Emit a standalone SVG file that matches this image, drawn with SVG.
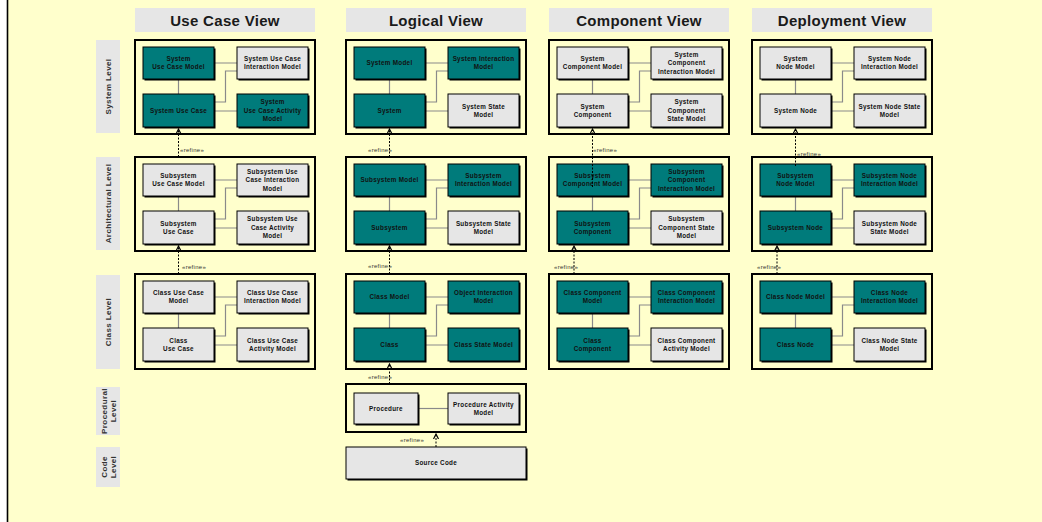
<svg xmlns="http://www.w3.org/2000/svg" width="1042" height="522" viewBox="0 0 1042 522">
<style>
.hd{fill:#e6e6e6}
.ht{font:bold 15px "Liberation Sans",Arial,sans-serif;fill:#1a1a1a;text-anchor:middle;letter-spacing:0.3px}
.ct{fill:none;stroke:#000;stroke-width:2}
.lv{fill:#e6e6e6}
.lt{font:bold 8px "Liberation Sans",Arial,sans-serif;fill:#333;text-anchor:middle;letter-spacing:0.4px}
.sh{fill:#000}
.tl{fill:#007b7b;stroke:#000;stroke-width:1}
.gr{fill:#e6e6e6;stroke:#000;stroke-width:1}
.tx{font:bold 6.3px "Liberation Sans",Arial,sans-serif;fill:#111;text-anchor:middle;letter-spacing:0.3px}
.lk{fill:none;stroke:#8a8a8a;stroke-width:1.2}
.rf{fill:none;stroke:#000;stroke-width:1;stroke-dasharray:2 1.5;marker-end:url(#ah)}
.rl{font:6px "Liberation Sans",Arial,sans-serif;fill:#333;letter-spacing:0.3px}
</style>
<defs>
<marker id="ah" markerUnits="userSpaceOnUse" markerWidth="7" markerHeight="7" refX="5" refY="3" orient="auto">
<path d="M0,0.5 L5,3 L0,5.5" fill="none" stroke="#000" stroke-width="1.2"/>
</marker>
</defs>
<rect width="1042" height="522" fill="#ffffcc"/>
<rect width="7" height="522" fill="#fff"/>
<line x1="7.5" y1="0" x2="7.5" y2="522" stroke="#000" stroke-width="1.6"/>

<g id="headers">
<rect class="hd" x="135" y="8" width="180" height="24"/><text class="ht" x="225" y="25.5">Use Case View</text>
<rect class="hd" x="346" y="8" width="180" height="24"/><text class="ht" x="436" y="25.5">Logical View</text>
<rect class="hd" x="549" y="8" width="180" height="24"/><text class="ht" x="639" y="25.5">Component View</text>
<rect class="hd" x="752" y="8" width="180" height="24"/><text class="ht" x="842" y="25.5">Deployment View</text>
</g>

<g id="levels">
<rect class="lv" x="96" y="40" width="24" height="93"/><text class="lt" transform="translate(108,86.5) rotate(-90)" y="3">System Level</text>
<rect class="lv" x="96" y="157" width="24" height="93"/><text class="lt" transform="translate(108,203.5) rotate(-90)" y="3">Architectural Level</text>
<rect class="lv" x="96" y="275" width="24" height="94"/><text class="lt" transform="translate(108,322) rotate(-90)" y="3">Class Level</text>
<rect class="lv" x="96" y="387" width="24" height="48"/><text class="lt" transform="translate(108,411) rotate(-90)"><tspan x="0" y="-1.5">Procedural</tspan><tspan x="0" y="7.5">Level</tspan></text>
<rect class="lv" x="96" y="447" width="24" height="40"/><text class="lt" transform="translate(108,467) rotate(-90)"><tspan x="0" y="-1.5">Code</tspan><tspan x="0" y="7.5">Level</tspan></text>
</g>

<g id="containers">
<rect class="ct" x="135" y="40" width="180" height="94"/>
<rect class="ct" x="135" y="157" width="180" height="94"/>
<rect class="ct" x="135" y="274" width="180" height="95"/>
<rect class="ct" x="346" y="40" width="180" height="94"/>
<rect class="ct" x="346" y="157" width="180" height="94"/>
<rect class="ct" x="346" y="274" width="180" height="95"/>
<rect class="ct" x="346" y="384" width="180" height="48"/>
<rect class="ct" x="549" y="40" width="180" height="94"/>
<rect class="ct" x="549" y="157" width="180" height="94"/>
<rect class="ct" x="549" y="274" width="180" height="95"/>
<rect class="ct" x="752" y="40" width="180" height="94"/>
<rect class="ct" x="752" y="157" width="180" height="94"/>
<rect class="ct" x="752" y="274" width="180" height="95"/>
</g>

<g id="connectors">
<path class="lk" d="M178.5 79V94M214 63H237M214 102H225.5V71H237M214 111H237"/>
<path class="lk" d="M178.5 196V211M214 180H237M214 219H225.5V188H237M214 228H237"/>
<path class="lk" d="M178.5 313V328M214 297H237M214 336H225.5V305H237M214 345H237"/>
<path class="lk" d="M389.5 79V94M425 63H448M425 102H436.5V71H448M425 111H448"/>
<path class="lk" d="M389.5 196V211M425 180H448M425 219H436.5V188H448M425 228H448"/>
<path class="lk" d="M389.5 313V328M425 297H448M425 336H436.5V305H448M425 345H448"/>
<path class="lk" d="M418 408.5H448"/>
<path class="lk" d="M592.5 79V94M628 63H651M628 102H639.5V71H651M628 111H651"/>
<path class="lk" d="M592.5 196V211M628 180H651M628 219H639.5V188H651M628 228H651"/>
<path class="lk" d="M592.5 313V328M628 297H651M628 336H639.5V305H651M628 345H651"/>
<path class="lk" d="M795.5 79V94M831 63H854M831 102H842.5V71H854M831 111H854"/>
<path class="lk" d="M795.5 196V211M831 180H854M831 219H842.5V188H854M831 228H854"/>
<path class="lk" d="M795.5 313V328M831 297H854M831 336H842.5V305H854M831 345H854"/>
</g>

<!-- Use Case View -->
<g id="uc-s-tl"><rect class="sh" x="144.5" y="48.5" width="71" height="32"/><rect class="tl" x="143" y="47" width="71" height="32"/><text class="tx"><tspan x="178.5" y="61.05">System</tspan><tspan x="178.5" y="69.35">Use Case Model</tspan></text></g>
<g id="uc-s-tr"><rect class="sh" x="238.5" y="48.5" width="71" height="32"/><rect class="gr" x="237" y="47" width="71" height="32"/><text class="tx"><tspan x="272.5" y="61.05">System Use Case</tspan><tspan x="272.5" y="69.35">Interaction Model</tspan></text></g>
<g id="uc-s-bl"><rect class="sh" x="144.5" y="95.5" width="71" height="33"/><rect class="tl" x="143" y="94" width="71" height="33"/><text class="tx" x="178.5" y="112.7">System Use Case</text></g>
<g id="uc-s-br"><rect class="sh" x="238.5" y="95.5" width="71" height="33"/><rect class="tl" x="237" y="94" width="71" height="33"/><text class="tx"><tspan x="272.5" y="104.4">System</tspan><tspan x="272.5" y="112.7">Use Case Activity</tspan><tspan x="272.5" y="121">Model</tspan></text></g>

<g id="uc-a-tl"><rect class="sh" x="144.5" y="165.5" width="71" height="32"/><rect class="gr" x="143" y="164" width="71" height="32"/><text class="tx"><tspan x="178.5" y="178.05">Subsystem</tspan><tspan x="178.5" y="186.35">Use Case Model</tspan></text></g>
<g id="uc-a-tr"><rect class="sh" x="238.5" y="165.5" width="71" height="32"/><rect class="gr" x="237" y="164" width="71" height="32"/><text class="tx"><tspan x="272.5" y="173.9">Subsystem Use</tspan><tspan x="272.5" y="182.2">Case Interaction</tspan><tspan x="272.5" y="190.5">Model</tspan></text></g>
<g id="uc-a-bl"><rect class="sh" x="144.5" y="212.5" width="71" height="33"/><rect class="gr" x="143" y="211" width="71" height="33"/><text class="tx"><tspan x="178.5" y="225.55">Subsystem</tspan><tspan x="178.5" y="233.85">Use Case</tspan></text></g>
<g id="uc-a-br"><rect class="sh" x="238.5" y="212.5" width="71" height="33"/><rect class="gr" x="237" y="211" width="71" height="33"/><text class="tx"><tspan x="272.5" y="221.4">Subsystem Use</tspan><tspan x="272.5" y="229.7">Case Activity</tspan><tspan x="272.5" y="238">Model</tspan></text></g>

<g id="uc-c-tl"><rect class="sh" x="144.5" y="282.5" width="71" height="32"/><rect class="gr" x="143" y="281" width="71" height="32"/><text class="tx"><tspan x="178.5" y="295.05">Class Use Case</tspan><tspan x="178.5" y="303.35">Model</tspan></text></g>
<g id="uc-c-tr"><rect class="sh" x="238.5" y="282.5" width="71" height="32"/><rect class="gr" x="237" y="281" width="71" height="32"/><text class="tx"><tspan x="272.5" y="295.05">Class Use Case</tspan><tspan x="272.5" y="303.35">Interaction Model</tspan></text></g>
<g id="uc-c-bl"><rect class="sh" x="144.5" y="329.5" width="71" height="33"/><rect class="gr" x="143" y="328" width="71" height="33"/><text class="tx"><tspan x="178.5" y="342.55">Class</tspan><tspan x="178.5" y="350.85">Use Case</tspan></text></g>
<g id="uc-c-br"><rect class="sh" x="238.5" y="329.5" width="71" height="33"/><rect class="gr" x="237" y="328" width="71" height="33"/><text class="tx"><tspan x="272.5" y="342.55">Class Use Case</tspan><tspan x="272.5" y="350.85">Activity  Model</tspan></text></g>

<!-- Logical View -->
<g id="lg-s-tl"><rect class="sh" x="355.5" y="48.5" width="71" height="32"/><rect class="tl" x="354" y="47" width="71" height="32"/><text class="tx" x="389.5" y="65.2">System  Model</text></g>
<g id="lg-s-tr"><rect class="sh" x="449.5" y="48.5" width="71" height="32"/><rect class="tl" x="448" y="47" width="71" height="32"/><text class="tx"><tspan x="483.5" y="61.05">System Interaction</tspan><tspan x="483.5" y="69.35">Model</tspan></text></g>
<g id="lg-s-bl"><rect class="sh" x="355.5" y="95.5" width="71" height="33"/><rect class="tl" x="354" y="94" width="71" height="33"/><text class="tx" x="389.5" y="112.7">System</text></g>
<g id="lg-s-br"><rect class="sh" x="449.5" y="95.5" width="71" height="33"/><rect class="gr" x="448" y="94" width="71" height="33"/><text class="tx"><tspan x="483.5" y="108.55">System State</tspan><tspan x="483.5" y="116.85">Model</tspan></text></g>

<g id="lg-a-tl"><rect class="sh" x="355.5" y="165.5" width="71" height="32"/><rect class="tl" x="354" y="164" width="71" height="32"/><text class="tx" x="389.5" y="182.2">Subsystem Model</text></g>
<g id="lg-a-tr"><rect class="sh" x="449.5" y="165.5" width="71" height="32"/><rect class="tl" x="448" y="164" width="71" height="32"/><text class="tx"><tspan x="483.5" y="178.05">Subsystem</tspan><tspan x="483.5" y="186.35">Interaction Model</tspan></text></g>
<g id="lg-a-bl"><rect class="sh" x="355.5" y="212.5" width="71" height="33"/><rect class="tl" x="354" y="211" width="71" height="33"/><text class="tx" x="389.5" y="229.7">Subsystem</text></g>
<g id="lg-a-br"><rect class="sh" x="449.5" y="212.5" width="71" height="33"/><rect class="gr" x="448" y="211" width="71" height="33"/><text class="tx"><tspan x="483.5" y="225.55">Subsystem State</tspan><tspan x="483.5" y="233.85">Model</tspan></text></g>

<g id="lg-c-tl"><rect class="sh" x="355.5" y="282.5" width="71" height="32"/><rect class="tl" x="354" y="281" width="71" height="32"/><text class="tx" x="389.5" y="299.2">Class Model</text></g>
<g id="lg-c-tr"><rect class="sh" x="449.5" y="282.5" width="71" height="32"/><rect class="tl" x="448" y="281" width="71" height="32"/><text class="tx"><tspan x="483.5" y="295.05">Object Interaction</tspan><tspan x="483.5" y="303.35">Model</tspan></text></g>
<g id="lg-c-bl"><rect class="sh" x="355.5" y="329.5" width="71" height="33"/><rect class="tl" x="354" y="328" width="71" height="33"/><text class="tx" x="389.5" y="346.7">Class</text></g>
<g id="lg-c-br"><rect class="sh" x="449.5" y="329.5" width="71" height="33"/><rect class="tl" x="448" y="328" width="71" height="33"/><text class="tx" x="483.5" y="346.7">Class State Model</text></g>

<g id="lg-p-l"><rect class="sh" x="355.5" y="394.5" width="64" height="31"/><rect class="gr" x="354" y="393" width="64" height="31"/><text class="tx" x="386" y="410.7">Procedure</text></g>
<g id="lg-p-r"><rect class="sh" x="449.5" y="394.5" width="71" height="31"/><rect class="gr" x="448" y="393" width="71" height="31"/><text class="tx"><tspan x="483.5" y="406.55">Procedure Activity</tspan><tspan x="483.5" y="414.85">Model</tspan></text></g>
<g id="lg-src"><rect class="sh" x="347.5" y="448.5" width="180" height="32"/><rect class="gr" x="346" y="447" width="180" height="32"/><text class="tx" x="436" y="465.2">Source Code</text></g>

<!-- Component View -->
<g id="cp-s-tl"><rect class="sh" x="558.5" y="48.5" width="71" height="32"/><rect class="gr" x="557" y="47" width="71" height="32"/><text class="tx"><tspan x="592.5" y="61.05">System</tspan><tspan x="592.5" y="69.35">Component Model</tspan></text></g>
<g id="cp-s-tr"><rect class="sh" x="652.5" y="48.5" width="71" height="32"/><rect class="gr" x="651" y="47" width="71" height="32"/><text class="tx"><tspan x="686.5" y="56.9">System</tspan><tspan x="686.5" y="65.2">Component</tspan><tspan x="686.5" y="73.5">Interaction Model</tspan></text></g>
<g id="cp-s-bl"><rect class="sh" x="558.5" y="95.5" width="71" height="33"/><rect class="gr" x="557" y="94" width="71" height="33"/><text class="tx"><tspan x="592.5" y="108.55">System</tspan><tspan x="592.5" y="116.85">Component</tspan></text></g>
<g id="cp-s-br"><rect class="sh" x="652.5" y="95.5" width="71" height="33"/><rect class="gr" x="651" y="94" width="71" height="33"/><text class="tx"><tspan x="686.5" y="104.4">System</tspan><tspan x="686.5" y="112.7">Component</tspan><tspan x="686.5" y="121">State Model</tspan></text></g>

<g id="cp-a-tl"><rect class="sh" x="558.5" y="165.5" width="71" height="32"/><rect class="tl" x="557" y="164" width="71" height="32"/><text class="tx"><tspan x="592.5" y="178.05">Subsystem</tspan><tspan x="592.5" y="186.35">Component Model</tspan></text></g>
<g id="cp-a-tr"><rect class="sh" x="652.5" y="165.5" width="71" height="32"/><rect class="tl" x="651" y="164" width="71" height="32"/><text class="tx"><tspan x="686.5" y="173.9">Subsystem</tspan><tspan x="686.5" y="182.2">Component</tspan><tspan x="686.5" y="190.5">Interaction  Model</tspan></text></g>
<g id="cp-a-bl"><rect class="sh" x="558.5" y="212.5" width="71" height="33"/><rect class="tl" x="557" y="211" width="71" height="33"/><text class="tx"><tspan x="592.5" y="225.55">Subsystem</tspan><tspan x="592.5" y="233.85">Component</tspan></text></g>
<g id="cp-a-br"><rect class="sh" x="652.5" y="212.5" width="71" height="33"/><rect class="gr" x="651" y="211" width="71" height="33"/><text class="tx"><tspan x="686.5" y="221.4">Subsystem</tspan><tspan x="686.5" y="229.7">Component State</tspan><tspan x="686.5" y="238">Model</tspan></text></g>

<g id="cp-c-tl"><rect class="sh" x="558.5" y="282.5" width="71" height="32"/><rect class="tl" x="557" y="281" width="71" height="32"/><text class="tx"><tspan x="592.5" y="295.05">Class Component</tspan><tspan x="592.5" y="303.35">Model</tspan></text></g>
<g id="cp-c-tr"><rect class="sh" x="652.5" y="282.5" width="71" height="32"/><rect class="tl" x="651" y="281" width="71" height="32"/><text class="tx"><tspan x="686.5" y="295.05">Class Component</tspan><tspan x="686.5" y="303.35">Interaction Model</tspan></text></g>
<g id="cp-c-bl"><rect class="sh" x="558.5" y="329.5" width="71" height="33"/><rect class="tl" x="557" y="328" width="71" height="33"/><text class="tx"><tspan x="592.5" y="342.55">Class</tspan><tspan x="592.5" y="350.85">Component</tspan></text></g>
<g id="cp-c-br"><rect class="sh" x="652.5" y="329.5" width="71" height="33"/><rect class="gr" x="651" y="328" width="71" height="33"/><text class="tx"><tspan x="686.5" y="342.55">Class Component</tspan><tspan x="686.5" y="350.85">Activity  Model</tspan></text></g>

<!-- Deployment View -->
<g id="dp-s-tl"><rect class="sh" x="761.5" y="48.5" width="71" height="32"/><rect class="gr" x="760" y="47" width="71" height="32"/><text class="tx"><tspan x="795.5" y="61.05">System</tspan><tspan x="795.5" y="69.35">Node Model</tspan></text></g>
<g id="dp-s-tr"><rect class="sh" x="855.5" y="48.5" width="71" height="32"/><rect class="gr" x="854" y="47" width="71" height="32"/><text class="tx"><tspan x="889.5" y="61.05">System Node</tspan><tspan x="889.5" y="69.35">Interaction Model</tspan></text></g>
<g id="dp-s-bl"><rect class="sh" x="761.5" y="95.5" width="71" height="33"/><rect class="gr" x="760" y="94" width="71" height="33"/><text class="tx" x="795.5" y="112.7">System Node</text></g>
<g id="dp-s-br"><rect class="sh" x="855.5" y="95.5" width="71" height="33"/><rect class="gr" x="854" y="94" width="71" height="33"/><text class="tx"><tspan x="889.5" y="108.55">System Node State</tspan><tspan x="889.5" y="116.85">Model</tspan></text></g>

<g id="dp-a-tl"><rect class="sh" x="761.5" y="165.5" width="71" height="32"/><rect class="tl" x="760" y="164" width="71" height="32"/><text class="tx"><tspan x="795.5" y="178.05">Subsystem</tspan><tspan x="795.5" y="186.35">Node Model</tspan></text></g>
<g id="dp-a-tr"><rect class="sh" x="855.5" y="165.5" width="71" height="32"/><rect class="tl" x="854" y="164" width="71" height="32"/><text class="tx"><tspan x="889.5" y="178.05">Subsystem Node</tspan><tspan x="889.5" y="186.35">Interaction Model</tspan></text></g>
<g id="dp-a-bl"><rect class="sh" x="761.5" y="212.5" width="71" height="33"/><rect class="tl" x="760" y="211" width="71" height="33"/><text class="tx" x="795.5" y="229.7">Subsystem Node</text></g>
<g id="dp-a-br"><rect class="sh" x="855.5" y="212.5" width="71" height="33"/><rect class="gr" x="854" y="211" width="71" height="33"/><text class="tx"><tspan x="889.5" y="225.55">Subsystem Node</tspan><tspan x="889.5" y="233.85">State Model</tspan></text></g>

<g id="dp-c-tl"><rect class="sh" x="761.5" y="282.5" width="71" height="32"/><rect class="tl" x="760" y="281" width="71" height="32"/><text class="tx" x="795.5" y="299.2">Class Node Model</text></g>
<g id="dp-c-tr"><rect class="sh" x="855.5" y="282.5" width="71" height="32"/><rect class="tl" x="854" y="281" width="71" height="32"/><text class="tx"><tspan x="889.5" y="295.05">Class Node</tspan><tspan x="889.5" y="303.35">Interaction Model</tspan></text></g>
<g id="dp-c-bl"><rect class="sh" x="761.5" y="329.5" width="71" height="33"/><rect class="tl" x="760" y="328" width="71" height="33"/><text class="tx" x="795.5" y="346.7">Class Node</text></g>
<g id="dp-c-br"><rect class="sh" x="855.5" y="329.5" width="71" height="33"/><rect class="gr" x="854" y="328" width="71" height="33"/><text class="tx"><tspan x="889.5" y="342.55">Class Node State</tspan><tspan x="889.5" y="350.85">Model</tspan></text></g>

<g id="refines">
<path class="rf" d="M178.5 157V129"/><text class="rl" x="180" y="151.5">«refine»</text>
<path class="rf" d="M178.5 274V246"/><text class="rl" x="182" y="269">«refine»</text>
<path class="rf" d="M389.5 157V129"/><text class="rl" x="368" y="152">«refine»</text>
<path class="rf" d="M389.5 274V246"/><text class="rl" x="368" y="268">«refine»</text>
<path class="rf" d="M389.5 384V364"/><text class="rl" x="368" y="379">«refine»</text>
<path class="rf" d="M436 447V434"/><text class="rl" x="400" y="442">«refine»</text>
<path class="rf" d="M592.5 187V129"/><text class="rl" x="593" y="152">«refine»</text>
<path class="rf" d="M574 274V246"/><text class="rl" x="554" y="269">«refine»</text>
<path class="rf" d="M795.5 166V129"/><text class="rl" x="797" y="156">«refine»</text>
<path class="rf" d="M777 274V246"/><text class="rl" x="757" y="269">«refine»</text>
</g>
</svg>
